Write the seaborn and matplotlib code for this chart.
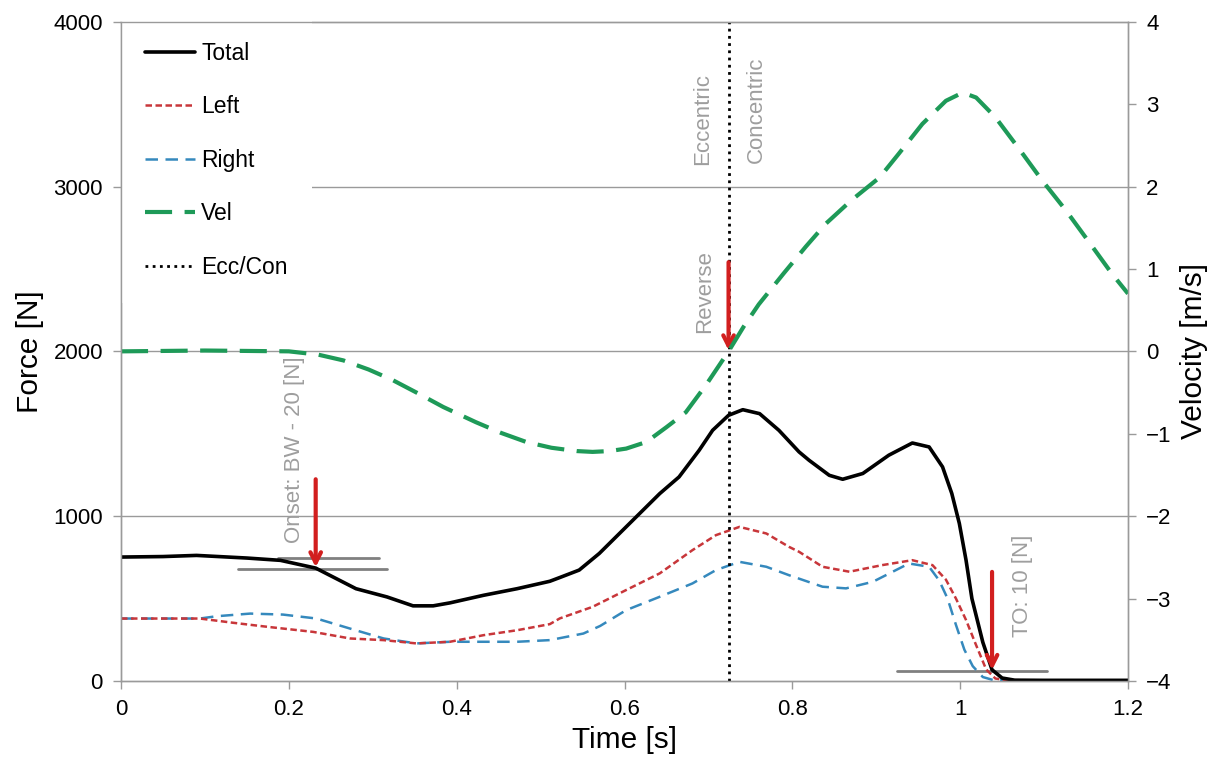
import matplotlib
matplotlib.use("Agg")
import matplotlib.pyplot as plt
from matplotlib.lines import Line2D
import seaborn as sns
import pandas as pd

# ---------------- data ----------------
t_total = [0, 0.05, 0.09, 0.15, 0.19, 0.232, 0.28, 0.317, 0.348, 0.372, 0.392, 0.432,
           0.472, 0.511, 0.523, 0.546, 0.570, 0.594, 0.618, 0.642, 0.665, 0.689, 0.705,
           0.724, 0.741, 0.761, 0.784, 0.808, 0.820, 0.844, 0.860, 0.884, 0.915, 0.943,
           0.963, 0.979, 0.990, 0.999, 1.007, 1.014, 1.027, 1.038, 1.05, 1.065, 1.1, 1.2]
f_total = [752, 755, 762, 746, 732, 685, 560, 510, 456, 456, 474, 520,
           560, 605, 628, 673, 774, 895, 1016, 1137, 1238, 1400, 1521,
           1612, 1646, 1622, 1521, 1390, 1339, 1248, 1224, 1259, 1370, 1444,
           1420, 1299, 1138, 956, 733, 500, 235, 68, 18, 5, 4, 4]

t_left = [0, 0.094, 0.134, 0.174, 0.229, 0.273, 0.313, 0.352, 0.392, 0.432, 0.472,
          0.511, 0.523, 0.562, 0.602, 0.642, 0.681, 0.709, 0.737, 0.769, 0.796, 0.808,
          0.836, 0.868, 0.907, 0.943, 0.967, 0.983, 0.995, 1.007, 1.018, 1.031, 1.042,
          1.055, 1.2]
f_left = [379, 379, 353, 329, 298, 258, 248, 228, 238, 278, 308,
          345, 380, 450, 552, 653, 794, 885, 935, 895, 814, 784,
          693, 663, 703, 733, 703, 615, 500, 370, 230, 70, 15,
          5, 3]

t_right = [0, 0.094, 0.114, 0.154, 0.193, 0.233, 0.273, 0.313, 0.352, 0.392, 0.432,
           0.472, 0.511, 0.551, 0.571, 0.602, 0.642, 0.681, 0.709, 0.737, 0.769, 0.796,
           0.836, 0.864, 0.896, 0.939, 0.963, 0.975, 0.985, 0.995, 1.005, 1.015, 1.027,
           1.04, 1.2]
f_right = [379, 379, 393, 409, 403, 379, 318, 258, 228, 238, 238,
           238, 248, 288, 334, 430, 511, 592, 673, 723, 693, 642,
           572, 562, 602, 713, 693, 610, 500, 340, 190, 90, 24,
           5, 3]

t_vel = [0, 0.1, 0.2, 0.235, 0.265, 0.295, 0.324, 0.354, 0.384, 0.423, 0.453, 0.483,
         0.513, 0.543, 0.562, 0.582, 0.602, 0.626, 0.650, 0.673, 0.697, 0.724, 0.742,
         0.76, 0.79, 0.816, 0.84, 0.87, 0.904, 0.927, 0.955, 0.983, 1.003, 1.019,
         1.042, 1.070, 1.098, 1.126, 1.154, 1.181, 1.2]
v_vel = [0, 0.01, 0.0, -0.04, -0.11, -0.22, -0.35, -0.51, -0.675, -0.86, -0.99, -1.10,
         -1.17, -1.21, -1.22, -1.21, -1.18, -1.10, -0.92, -0.74, -0.41, 0.0, 0.30,
         0.57, 0.95, 1.27, 1.55, 1.83, 2.11, 2.40, 2.76, 3.04, 3.14, 3.08,
         2.84, 2.46, 2.07, 1.71, 1.32, 0.94, 0.70]

t_ecc_con = 0.724
onset_upper = [0.187, 0.308, 747]
onset_lower = [0.139, 0.317, 677]
to_line = [0.925, 1.104, 62]

x_ticks = [0, 0.2, 0.4, 0.6, 0.8, 1, 1.2]
x_ticklabels = ["0", "0.2", "0.4", "0.6", "0.8", "1", "1.2"]
f_ticks = [0, 1000, 2000, 3000, 4000]
v_ticks = [-4, -3, -2, -1, 0, 1, 2, 3, 4]

# ---------------- style ----------------
sns.set_style("white")
plt.rcParams["font.family"] = ["Liberation Sans", "DejaVu Sans"]
plt.rcParams["text.color"] = "black"
plt.rcParams["axes.labelcolor"] = "black"
plt.rcParams["xtick.labelcolor"] = "black"
plt.rcParams["ytick.labelcolor"] = "black"

C_TOTAL = "black"
C_LEFT = "#C8363A"
C_RIGHT = "#3589BD"
C_VEL = "#1E9A58"
C_ARROW = "#D21F1F"
C_GRID = "#9A9A9A"
C_NOTE = "#9E9E9E"

fig = plt.figure(figsize=(12.16, 7.57), dpi=100)
ax = fig.add_axes([121 / 1216, 1 - 681 / 757, (1128 - 121) / 1216, (681 - 21.7) / 757])
ax2 = ax.twinx()

df_total = pd.DataFrame({"t": t_total, "F": f_total})
df_left = pd.DataFrame({"t": t_left, "F": f_left})
df_right = pd.DataFrame({"t": t_right, "F": f_right})
df_vel = pd.DataFrame({"t": t_vel, "v": v_vel})

# grid lines
for y in [1000, 2000, 3000]:
    ax.axhline(y, color=C_GRID, lw=1.0, zorder=0)

sns.lineplot(data=df_right, x="t", y="F", ax=ax, color=C_RIGHT, lw=1.8,
             estimator=None, sort=False, zorder=3)
ax.lines[-1].set_dashes([5, 3])
sns.lineplot(data=df_left, x="t", y="F", ax=ax, color=C_LEFT, lw=1.8,
             estimator=None, sort=False, zorder=3)
ax.lines[-1].set_dashes([2.6, 1.4])
sns.lineplot(data=df_total, x="t", y="F", ax=ax, color=C_TOTAL, lw=2.6,
             estimator=None, sort=False, zorder=4)

ax.axvline(t_ecc_con, color="black", lw=2.0, ls=(0, (1, 1.6)), zorder=5)

# reference lines
for x0, x1, y in [onset_upper, onset_lower, to_line]:
    ax.plot([x0, x1], [y, y], color="#808080", lw=2.0, zorder=2)

sns.lineplot(data=df_vel, x="t", y="v", ax=ax2, color=C_VEL, lw=3.0,
             estimator=None, sort=False)
ax2.lines[-1].set_dashes([6.5, 3])

# arrows
arrow_kw = dict(arrowstyle="->,head_length=0.75,head_width=0.38", color=C_ARROW, lw=3,
                shrinkA=0, shrinkB=0)
ax.annotate("", xy=(0.232, 690), xytext=(0.232, 1224), arrowprops=arrow_kw, zorder=6)
ax.annotate("", xy=(0.724, 2006), xytext=(0.724, 2541), arrowprops=arrow_kw, zorder=6)
ax.annotate("", xy=(1.038, 67), xytext=(1.038, 662), arrowprops=arrow_kw, zorder=6)

# notes
note_kw = dict(rotation=90, ha="center", va="bottom", color=C_NOTE, fontsize=16)
ax.text(0.207, 836, "Onset: BW - 20 [N]", **note_kw)
ax.text(0.695, 2109, "Reverse", **note_kw)
ax.text(1.074, 267, "TO: 10 [N]", **note_kw)
ax.text(0.693, 3130, "Eccentric", **note_kw)
ax.text(0.757, 3140, "Concentric", **note_kw)

# axes
ax.set_xlim(0, 1.2)
ax.set_ylim(0, 4000)
ax2.set_ylim(-4, 4)
ax.set_xticks(x_ticks)
ax.set_xticklabels(x_ticklabels)
ax.set_yticks(f_ticks)
ax2.set_yticks(v_ticks)
ax.set_xlabel("Time [s]", fontsize=21.5, labelpad=4)
ax.set_ylabel("Force [N]", fontsize=21.5, labelpad=7)
ax2.set_ylabel("Velocity [m/s]", fontsize=21.5, labelpad=6)

for a in (ax, ax2):
    a.tick_params(axis="both", labelsize=16, direction="out", length=6, width=1,
                  color=C_GRID, pad=7, left=(a is ax), bottom=(a is ax), right=(a is ax2))
    for s in a.spines.values():
        s.set_color(C_GRID)
        s.set_linewidth(1.0)

# legend
handles = [
    Line2D([], [], color=C_TOTAL, lw=2.6),
    Line2D([], [], color=C_LEFT, lw=1.8, dashes=[2.6, 1.4]),
    Line2D([], [], color=C_RIGHT, lw=1.8, dashes=[5, 3]),
    Line2D([], [], color=C_VEL, lw=3.0, dashes=[6.5, 3]),
    Line2D([], [], color="black", lw=2.0, ls=(0, (1, 1.6))),
]
labels = ["Total", "Left", "Right", "Vel", "Ecc/Con"]
leg = ax2.legend(handles, labels, loc="upper left", bbox_to_anchor=(0, 1.006),
                 fontsize=16.5, handlelength=2.2, handletextpad=0.25, labelspacing=1.33,
                 borderpad=1.05, borderaxespad=0.0, frameon=True, fancybox=False)
leg.get_frame().set_facecolor("white")
leg.get_frame().set_edgecolor("none")
leg.get_frame().set_alpha(1)
leg.set_zorder(1)

fig.savefig("out.png", dpi=100)
